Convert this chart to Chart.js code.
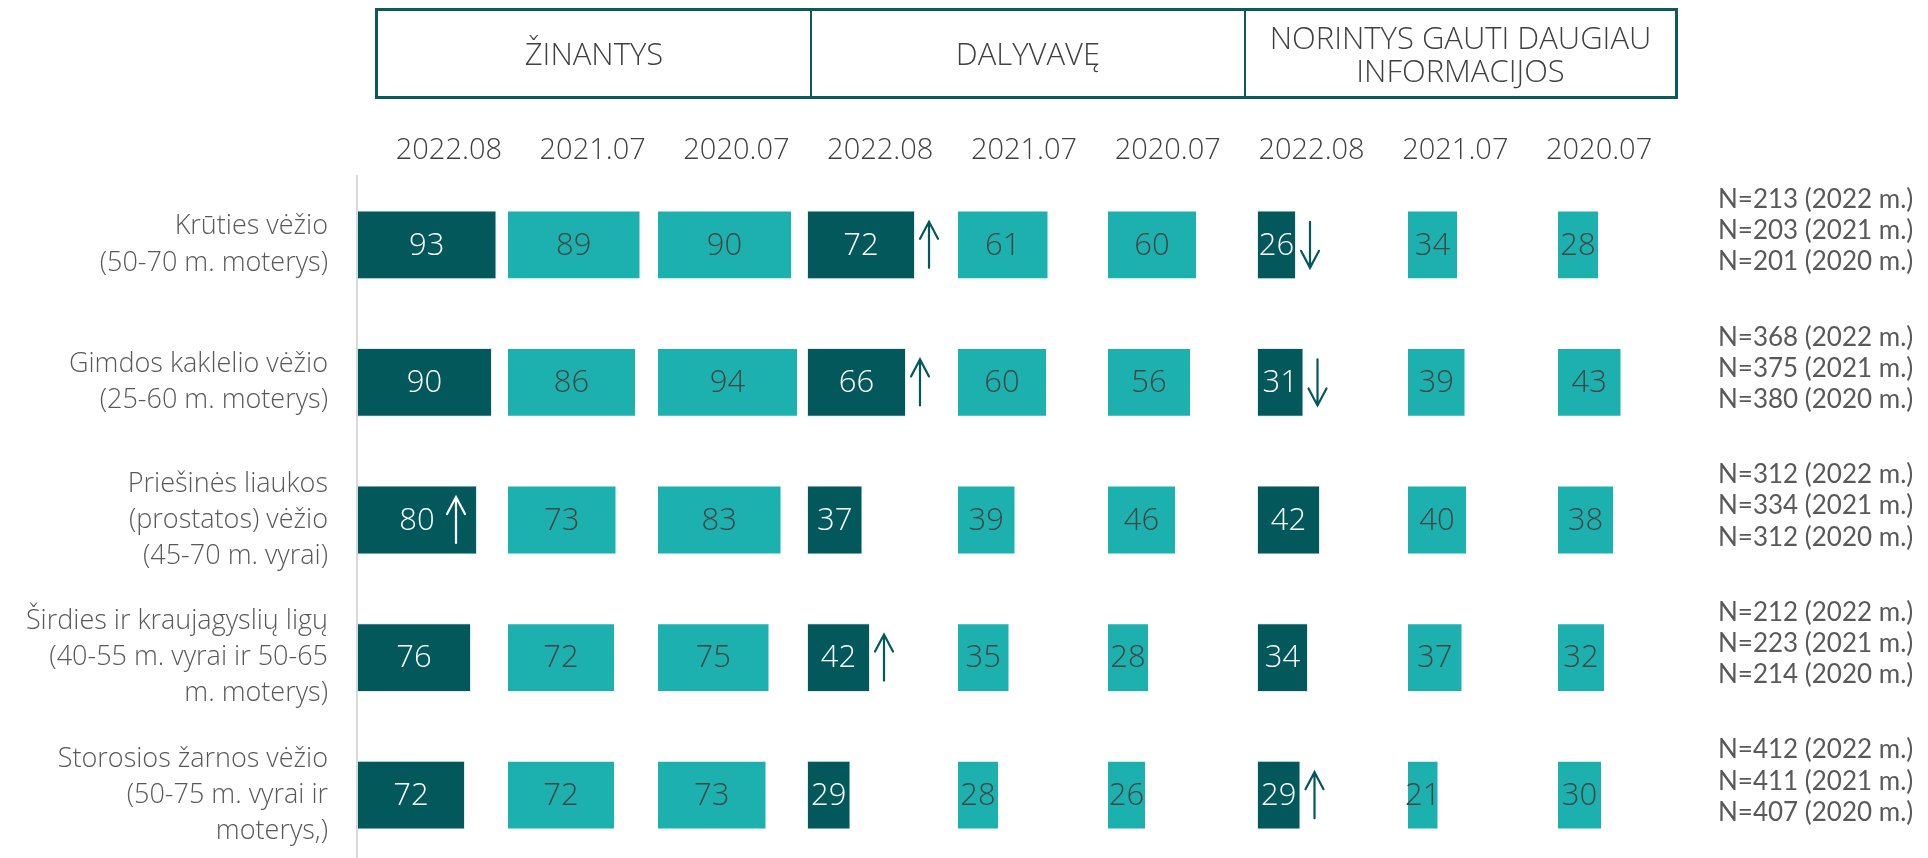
<!DOCTYPE html>
<html lang="lt">
<head>
  <meta charset="UTF-8">
  <title>Prevencinės programos</title>
  <script src="https://cdn.jsdelivr.net/npm/chart.js"></script>
  <style>
    html, body {
      margin: 0;
      padding: 0;
      background: #ffffff;
      overflow: hidden;
      width: 1928px;
      height: 858px;
    }

    .wrap {
      position: relative;
      width: 1928px;
      height: 858px;
    }

    canvas {
      position: absolute;
      left: 0;
      top: 0;
    }

    .header-box {
      position: absolute;
      left: 375px;
      top: 8px;
      width: 1303px;
      height: 91px;
      box-sizing: border-box;
      border: 3px solid #0c5a5d;
      display: grid;
      grid-template-columns: 432px 434px 1fr;
      font-family: 'Open Sans', sans-serif;
      font-weight: 300;
      font-size: 31px;
      color: #404040;
    }

    .header-box div {
      display: flex;
      align-items: center;
      justify-content: center;
      text-align: center;
      line-height: 33px;
    }

    .header-box div + div {
      border-left: 2px solid #0c5a5d;
    }

    .dates {
      position: absolute;
      left: 377px;
      top: 128px;
      width: 1294px;
      display: grid;
      grid-template-columns: repeat(9, 1fr);
      font-family: 'Open Sans', sans-serif;
      font-weight: 300;
      font-size: 29px;
      color: #404040;
      text-align: center;
      line-height: 40px;
    }
  </style>
</head>
<body>
<div class="wrap">
  <canvas id="chart" width="1928" height="864"></canvas>

  <div class="header-box">
    <div>ŽINANTYS</div>
    <div>DALYVAVĘ</div>
    <div>NORINTYS GAUTI DAUGIAU<br>INFORMACIJOS</div>
  </div>
  <div class="dates" id="dates"></div>
</div>

<script>
  // eilutės (programos)
  const categories = [
    ['Krūties vėžio', '(50-70 m. moterys)'],
    ['Gimdos kaklelio vėžio', '(25-60 m. moterys)'],
    ['Priešinės liaukos', '(prostatos) vėžio', '(45-70 m. vyrai)'],
    ['Širdies ir kraujagyslių ligų', '(40-55 m. vyrai ir 50-65', 'm. moterys)'],
    ['Storosios žarnos vėžio', '(50-75 m. vyrai ir', 'moterys,)']
  ];

  const sampleSizes = [
    ['N=213 (2022 m.)', 'N=203 (2021 m.)', 'N=201 (2020 m.)'],
    ['N=368 (2022 m.)', 'N=375 (2021 m.)', 'N=380 (2020 m.)'],
    ['N=312 (2022 m.)', 'N=334 (2021 m.)', 'N=312 (2020 m.)'],
    ['N=212 (2022 m.)', 'N=223 (2021 m.)', 'N=214 (2020 m.)'],
    ['N=412 (2022 m.)', 'N=411 (2021 m.)', 'N=407 (2020 m.)']
  ];

  const waves = ['2022.08', '2021.07', '2020.07'];

  // ŽINANTYS
  const zinantys2022 = [93, 90, 80, 76, 72];
  const zinantys2021 = [89, 86, 73, 72, 72];
  const zinantys2020 = [90, 94, 83, 75, 73];
  // DALYVAVĘ
  const dalyvave2022 = [72, 66, 37, 42, 29];
  const dalyvave2021 = [61, 60, 39, 35, 28];
  const dalyvave2020 = [60, 56, 46, 28, 26];
  // NORINTYS GAUTI DAUGIAU INFORMACIJOS
  const norintys2022 = [26, 31, 42, 34, 29];
  const norintys2021 = [34, 39, 40, 37, 21];
  const norintys2020 = [28, 43, 38, 32, 30];

  // pokyčio rodyklės 2022 m. stulpeliams
  const trendZinantys = ['', '', 'up-in', '', ''];
  const trendDalyvave = ['up', 'up', '', 'up', ''];
  const trendNorintys = ['down', 'down', '', '', 'up'];
  const noTrend = ['', '', '', '', ''];

  const DARK = '#03585c';
  const LIGHT = '#1cb1ae';

  const columns = [
    { values: zinantys2022, dark: true,  trend: trendZinantys },
    { values: zinantys2021, dark: false, trend: noTrend },
    { values: zinantys2020, dark: false, trend: noTrend },
    { values: dalyvave2022, dark: true,  trend: trendDalyvave },
    { values: dalyvave2021, dark: false, trend: noTrend },
    { values: dalyvave2020, dark: false, trend: noTrend },
    { values: norintys2022, dark: true,  trend: trendNorintys },
    { values: norintys2021, dark: false, trend: noTrend },
    { values: norintys2020, dark: false, trend: noTrend }
  ];

  // datų antraštės
  const datesEl = document.getElementById('dates');
  for (let g = 0; g < 3; g++) {
    waves.forEach(w => {
      const d = document.createElement('div');
      d.textContent = w;
      datesEl.appendChild(d);
    });
  }

  // kiekvienas stulpelis užima 100 vienetų ašyje
  const datasets = columns.map((col, k) => ({
    label: waves[k % 3],
    data: col.values.map(v => [k * 100, k * 100 + v]),
    backgroundColor: col.dark ? DARK : LIGHT,
    borderColor: col.dark ? 'rgba(200,220,220,0.55)' : 'rgba(255,255,255,0.45)',
    borderWidth: 1,
    borderSkipped: false,
    grouped: false,
    barPercentage: 0.5,
    categoryPercentage: 1
  }));

  function drawArrow(ctx, x, y, dir, color) {
    const half = 23;
    const tipY = dir === 'up' ? y - half : y + half;
    const tailY = dir === 'up' ? y + half : y - half;
    const headDy = dir === 'up' ? 17 : -17;
    ctx.save();
    ctx.strokeStyle = color;
    ctx.lineWidth = 2.2;
    ctx.lineCap = 'round';
    ctx.beginPath();
    ctx.moveTo(x, tailY);
    ctx.lineTo(x, tipY);
    ctx.moveTo(x - 9, tipY + headDy);
    ctx.lineTo(x, tipY);
    ctx.lineTo(x + 9, tipY + headDy);
    ctx.stroke();
    ctx.restore();
  }

  const valueLabels = {
    id: 'valueLabels',
    afterDatasetsDraw(chart) {
      const ctx = chart.ctx;
      ctx.save();
      ctx.font = '300 31px "Open Sans", sans-serif';
      ctx.textAlign = 'center';
      ctx.textBaseline = 'middle';
      columns.forEach((col, k) => {
        const meta = chart.getDatasetMeta(k);
        meta.data.forEach((bar, i) => {
          const left = Math.min(bar.x, bar.base);
          const right = Math.max(bar.x, bar.base);
          ctx.fillStyle = col.dark ? '#ffffff' : '#454545';
          ctx.fillText(col.values[i], (left + right) / 2, bar.y + 1);
          const t = col.trend[i];
          if (t === 'up-in') {
            drawArrow(ctx, right - 21, bar.y, 'up', '#ffffff');
          } else if (t) {
            drawArrow(ctx, right + 14, bar.y, t, DARK);
          }
        });
      });
      ctx.restore();
    }
  };

  // daugiaeilutės etiketės neturi didinti ašies paraščių
  function fixPadding(scale, width) {
    scale.width = width;
    scale.paddingTop = 0;
    scale.paddingBottom = 0;
  }

  new Chart(document.getElementById('chart'), {
    type: 'bar',
    data: {
      labels: categories,
      datasets: datasets
    },
    options: {
      indexAxis: 'y',
      responsive: false,
      animation: false,
      layout: { padding: { top: 176, right: 0, bottom: 0, left: 0 } },
      plugins: {
        legend: { display: false },
        tooltip: { enabled: false }
      },
      scales: {
        x: {
          type: 'linear',
          min: 0,
          max: 900,
          display: false
        },
        y: {
          type: 'category',
          position: 'left',
          offset: true,
          grid: { display: false, drawTicks: false },
          border: { display: true, color: '#d9d9d9', width: 2 },
          ticks: {
            autoSkip: false,
            padding: 29,
            color: '#595959',
            font: { family: "'Open Sans', sans-serif", weight: 300, size: 27, lineHeight: 1.34 }
          },
          afterFit(scale) { fixPadding(scale, 357); }
        },
        y2: {
          type: 'category',
          position: 'right',
          labels: sampleSizes,
          offset: true,
          grid: { display: false, drawTicks: false },
          border: { display: false },
          ticks: {
            autoSkip: false,
            padding: 11,
            labelOffset: -14,
            color: '#595959',
            font: { family: "Lato, sans-serif", size: 26, lineHeight: 1.2 }
          },
          afterFit(scale) { fixPadding(scale, 221); }
        }
      }
    },
    plugins: [valueLabels]
  });
</script>
</body>
</html>
